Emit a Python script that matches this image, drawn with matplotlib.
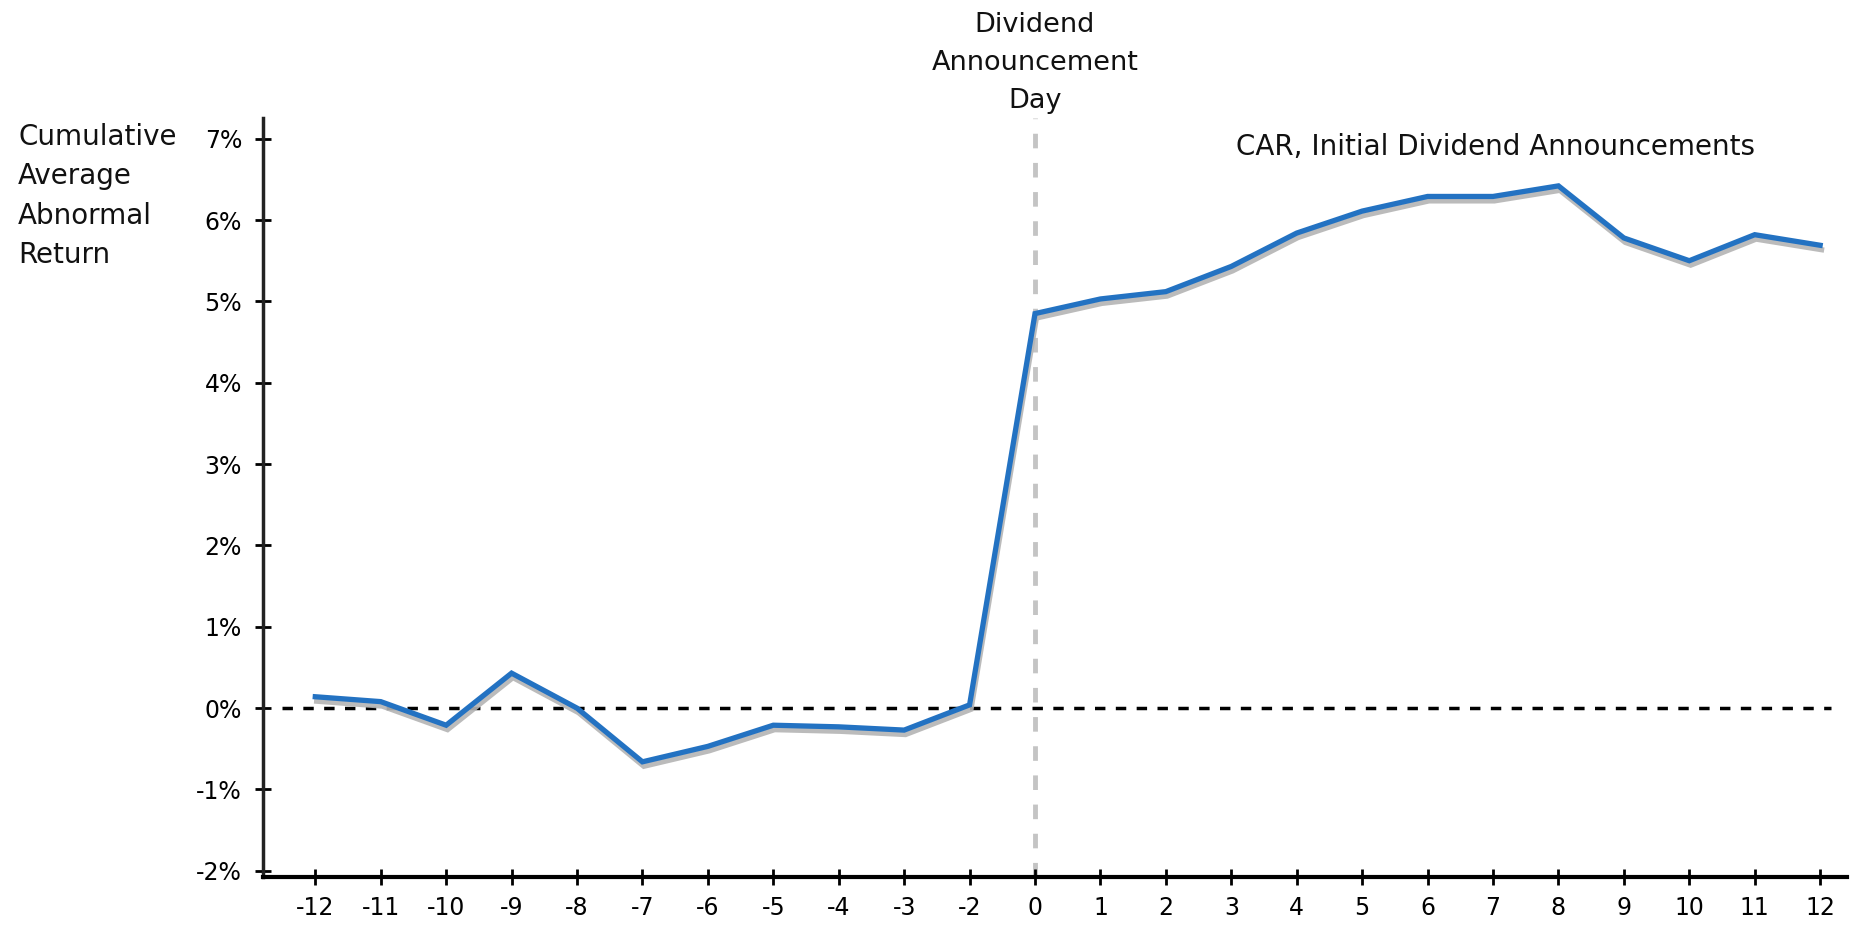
import matplotlib
matplotlib.use("Agg")
import matplotlib.pyplot as plt
import matplotlib.patheffects as pe
import matplotlib.transforms as mtransforms

days = ["-12", "-11", "-10", "-9", "-8", "-7", "-6", "-5", "-4", "-3", "-2",
        "0", "1", "2", "3", "4", "5", "6", "7", "8", "9", "10", "11", "12"]
car = [0.14, 0.08, -0.21, 0.43, 0.0, -0.66, -0.47, -0.21, -0.23, -0.27, 0.04,
       4.85, 5.03, 5.12, 5.43, 5.84, 6.11, 6.29, 6.29, 6.42, 5.78, 5.50, 5.82, 5.69]
yticks = [-2, -1, 0, 1, 2, 3, 4, 5, 6, 7]
series_label = "CAR, Initial Dividend Announcements"
event_label = "Dividend\nAnnouncement\nDay"
ylabel = "Cumulative\nAverage\nAbnormal\nReturn"

plt.rcParams['font.family'] = ['DejaVu Sans']
fig = plt.figure(figsize=(18.57, 9.32), dpi=100)
ax = fig.add_axes([0.1416, 0.059, 0.853, 0.814])

x = list(range(len(days)))
ev = days.index("0")

ax.axhline(0, xmin=0.012, xmax=0.99, color="black", lw=2.5, ls=(0, (3, 3)), zorder=1)
ax.axvline(ev, ymin=0, ymax=1.0, color="#c4c4c4", lw=3.5, ls=(0, (3, 3)), zorder=1)

ax.plot(x, car, color="#2372c2", lw=3.8, solid_joinstyle="miter", zorder=3,
        path_effects=[pe.SimpleLineShadow(offset=(1.0, -3.2), shadow_color="#b4b4b4", alpha=0.9),
                      pe.Normal()])

ax.set_xlim(-0.8, len(days) - 1 + 0.41)
ax.set_ylim(-2.076, 7.25)
ax.set_xticks(x)
ax.set_xticklabels(days)
ax.set_yticks(yticks)
ax.set_yticklabels([f"{v}%" for v in yticks])

for s in ["top", "right"]:
    ax.spines[s].set_visible(False)
ax.spines["left"].set_linewidth(2.5)
ax.spines["left"].set_color("#222222")
ax.spines["bottom"].set_linewidth(3)
ax.spines["bottom"].set_color("black")

ax.tick_params(axis="both", direction="inout", length=12, width=2, colors="black",
               labelsize=17)
ax.tick_params(axis="y", pad=9)
ax.tick_params(axis="x", pad=8)

fig.text(18 / 1857, 1 - 123 / 932, ylabel, ha="left", va="top", fontsize=20,
         linespacing=1.52, color="#111111")
trans = mtransforms.blended_transform_factory(ax.transData, fig.transFigure)
ax.text(ev, 1 - 12 / 932, event_label, transform=trans, ha="center", va="top",
        fontsize=19.5, linespacing=1.6, color="#111111")
ax.text(0.778, 0.962, series_label, transform=ax.transAxes, ha="center", va="center",
        fontsize=20, color="#111111")

fig.savefig("out.png", dpi=100)
